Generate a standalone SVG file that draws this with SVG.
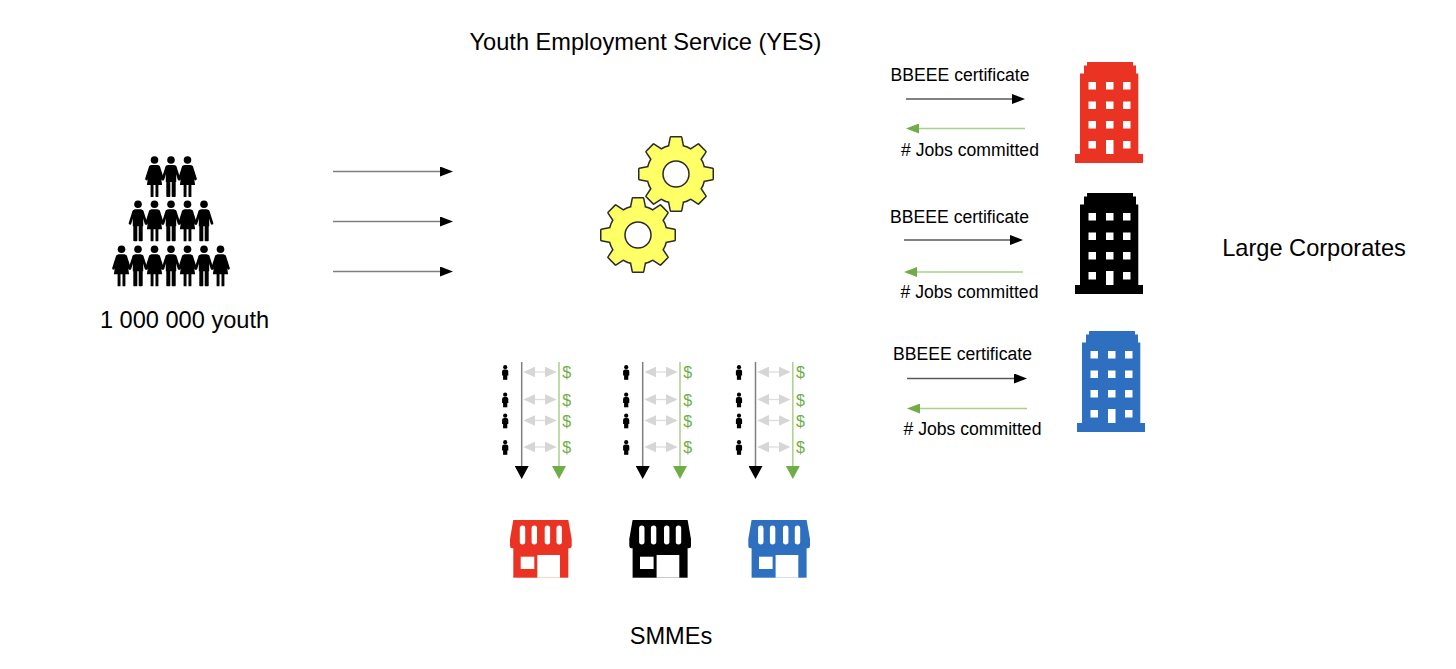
<svg xmlns="http://www.w3.org/2000/svg" xmlns:xlink="http://www.w3.org/1999/xlink" width="1456" height="669" viewBox="0 0 1456 669">
<style>
.t{font-family:"Liberation Sans",Arial,sans-serif;fill:#000}
.big{font-size:23.6px}
.sm{font-size:17.6px}
.dol{font-family:"Liberation Sans",Arial,sans-serif;font-size:16px;fill:#70AD47;text-anchor:middle}
.mid{text-anchor:middle}
.ln{stroke:#7F7F7F;stroke-width:1.5;fill:none}
.lnd{stroke:#595959;stroke-width:1.3;fill:none}
.lng{stroke:#A9D18E;stroke-width:1.5;fill:none}
.lnx{stroke:#DDDDDD;stroke-width:1.3;fill:none}
.win{fill:#fff}
</style>
<defs>
<marker id="ah" viewBox="0 0 13 10" refX="9" refY="5" markerWidth="13" markerHeight="10" markerUnits="userSpaceOnUse" orient="auto"><path d="M0,0 L13,5 L0,10 Z" fill="#000"/></marker>
<marker id="ahg" viewBox="0 0 13 10" refX="9" refY="5" markerWidth="13" markerHeight="10" markerUnits="userSpaceOnUse" orient="auto"><path d="M0,0 L13,5 L0,10 Z" fill="#70AD47"/></marker>
<marker id="av" viewBox="0 0 13 14" refX="9" refY="7" markerWidth="13" markerHeight="14" markerUnits="userSpaceOnUse" orient="auto"><path d="M0,0 L13,7 L0,14 Z" fill="#000"/></marker>
<marker id="avg" viewBox="0 0 13 14" refX="9" refY="7" markerWidth="13" markerHeight="14" markerUnits="userSpaceOnUse" orient="auto"><path d="M0,0 L13,7 L0,14 Z" fill="#70AD47"/></marker>
<marker id="ad" viewBox="0 0 12 11" refX="8" refY="5.5" markerWidth="12" markerHeight="11" markerUnits="userSpaceOnUse" orient="auto-start-reverse"><path d="M0,0 L12,5.5 L0,11 Z" fill="#D6D6D6"/></marker>
<g id="man">
<circle cx="0" cy="0" r="3.8"/>
<path d="M-5.2,8 Q-5.2,5 -2.5,5 H2.5 Q5.2,5 5.2,8 V22 H-5.2 Z"/>
<rect x="-4.7" y="21" width="4" height="16" rx="0.8"/>
<rect x="0.7" y="21" width="4" height="16" rx="0.8"/>
<path d="M-4.2,7 L-8,19 M4.2,7 L8,19" stroke="#000" stroke-width="2.7" stroke-linecap="round" fill="none"/>
</g>
<g id="woman">
<circle cx="0" cy="0" r="3.8"/>
<path d="M-3,5 H3 Q4.5,5 5,7 L7.6,25 H-7.6 L-5,7 Q-4.5,5 -3,5 Z"/>
<rect x="-3.9" y="24" width="2.9" height="13" rx="0.6"/>
<rect x="1" y="24" width="2.9" height="13" rx="0.6"/>
<path d="M-4.2,7 L-8,19 M4.2,7 L8,19" stroke="#000" stroke-width="2.7" stroke-linecap="round" fill="none"/>
</g>
<g id="sp">
<circle cx="0" cy="-4.8" r="2.1"/>
<path d="M-3.1,-0.5 Q-3.1,-2.5 -1,-2.5 H1 Q3.1,-2.5 3.1,-0.5 V3.5 H-3.1 Z"/>
<rect x="-2.1" y="3" width="4.2" height="4.8"/>
</g>
<g id="gearShape">
<circle cx="0" cy="0" r="28.5"/>
<polygon points="-5,-36.5 5,-36.5 6.8,-27.5 -6.8,-27.5"/>
<polygon points="-5,-36.5 5,-36.5 6.8,-27.5 -6.8,-27.5" transform="rotate(45)"/>
<polygon points="-5,-36.5 5,-36.5 6.8,-27.5 -6.8,-27.5" transform="rotate(90)"/>
<polygon points="-5,-36.5 5,-36.5 6.8,-27.5 -6.8,-27.5" transform="rotate(135)"/>
<polygon points="-5,-36.5 5,-36.5 6.8,-27.5 -6.8,-27.5" transform="rotate(180)"/>
<polygon points="-5,-36.5 5,-36.5 6.8,-27.5 -6.8,-27.5" transform="rotate(225)"/>
<polygon points="-5,-36.5 5,-36.5 6.8,-27.5 -6.8,-27.5" transform="rotate(270)"/>
<polygon points="-5,-36.5 5,-36.5 6.8,-27.5 -6.8,-27.5" transform="rotate(315)"/>
</g>
<g id="bldg">
<path d="M12,0 H58 V3.5 H61 V11.5 H63.3 V92 H68 V101 H0 V92 H5 V11.5 H9 V3.5 H12 Z"/>
<rect class="win" x="13.5" y="20" width="7.5" height="7.5"/>
<rect class="win" x="31" y="20" width="7.5" height="7.5"/>
<rect class="win" x="48" y="20" width="7.5" height="7.5"/>
<rect class="win" x="13.5" y="39.5" width="7.5" height="7.5"/>
<rect class="win" x="31" y="39.5" width="7.5" height="7.5"/>
<rect class="win" x="48" y="39.5" width="7.5" height="7.5"/>
<rect class="win" x="13.5" y="59" width="7.5" height="7.5"/>
<rect class="win" x="31" y="59" width="7.5" height="7.5"/>
<rect class="win" x="48" y="59" width="7.5" height="7.5"/>
<rect class="win" x="13.5" y="79" width="7.5" height="7.5"/>
<rect class="win" x="31" y="78" width="7.5" height="14"/>
<rect class="win" x="48" y="79" width="7.5" height="7.5"/>
</g>
<g id="shop">
<path d="M3.3,0 H58.3 L61.7,19 V26 Q61.7,28.3 59.4,28.3 H2.3 Q0,28.3 0,26 V19 Z"/>
<rect x="3.3" y="27.5" width="55" height="30.2"/>
<rect class="win" x="9.8" y="5.5" width="5.4" height="19" rx="2.7"/>
<rect class="win" x="21.6" y="5.5" width="5.4" height="19" rx="2.7"/>
<rect class="win" x="34.7" y="5.5" width="5.4" height="19" rx="2.7"/>
<rect class="win" x="46.5" y="5.5" width="5.4" height="19" rx="2.7"/>
<rect class="win" x="10.7" y="36.7" width="13.6" height="12.3"/>
<rect class="win" x="27.3" y="35" width="22.7" height="22.7"/>
</g>
</defs>

<g id="youth">
<use href="#woman" x="154.5" y="160"/>
<use href="#man" x="171" y="160"/>
<use href="#woman" x="187.5" y="160"/>
<use href="#man" x="138" y="204.3"/>
<use href="#woman" x="154.5" y="204.3"/>
<use href="#man" x="171" y="204.3"/>
<use href="#woman" x="187.5" y="204.3"/>
<use href="#man" x="204" y="204.3"/>
<use href="#woman" x="121.5" y="249.3"/>
<use href="#man" x="138" y="249.3"/>
<use href="#woman" x="154.5" y="249.3"/>
<use href="#man" x="171" y="249.3"/>
<use href="#woman" x="187.5" y="249.3"/>
<use href="#man" x="204" y="249.3"/>
<use href="#woman" x="220.5" y="249.3"/>
<text class="t big mid" x="184.5" y="327.5">1 000 000 youth</text>
</g>

<g id="yes">
<text class="t big mid" x="645.5" y="49.5">Youth Employment Service (YES)</text>
<use href="#gearShape" transform="translate(676,174)" fill="#FFFF66" stroke="#2B2B2B" stroke-width="3" stroke-linejoin="round"/>
<use href="#gearShape" transform="translate(676,174)" fill="#FFFF66" stroke="none"/>
<circle cx="676" cy="174" r="13" fill="#fff" stroke="#2B2B2B" stroke-width="1.5"/>
<use href="#gearShape" transform="translate(638,235)" fill="#FFFF66" stroke="#2B2B2B" stroke-width="3" stroke-linejoin="round"/>
<use href="#gearShape" transform="translate(638,235)" fill="#FFFF66" stroke="none"/>
<circle cx="638" cy="235" r="13" fill="#fff" stroke="#2B2B2B" stroke-width="1.5"/>
</g>

<g id="corporates">
<use href="#bldg" transform="translate(1075,62)" fill="#EB3324"/>
<use href="#bldg" transform="translate(1075,193)" fill="#000"/>
<use href="#bldg" transform="translate(1077,331)" fill="#2E6FBF"/>
<text class="t big mid" x="1314" y="255.5">Large Corporates</text>
</g>

<g id="smmes">
<use href="#shop" transform="translate(510,520)" fill="#EB3324"/>
<use href="#shop" transform="translate(629.3,520)" fill="#000"/>
<use href="#shop" transform="translate(748.3,520)" fill="#2E6FBF"/>
<text class="t big mid" x="671" y="644">SMMEs</text>
</g>

<g id="smme-flows">
<g transform="translate(521.7,0)">
<use href="#sp" x="-16.5" y="372"/><use href="#sp" x="-16.5" y="399.5"/><use href="#sp" x="-16.5" y="420.5"/><use href="#sp" x="-16.5" y="447"/>
<text class="dol" x="45" y="378">$</text><text class="dol" x="45" y="405.5">$</text><text class="dol" x="45" y="426.5">$</text><text class="dol" x="45" y="453">$</text>
</g>
<g transform="translate(642.7,0)">
<use href="#sp" x="-16.5" y="372"/><use href="#sp" x="-16.5" y="399.5"/><use href="#sp" x="-16.5" y="420.5"/><use href="#sp" x="-16.5" y="447"/>
<text class="dol" x="45" y="378">$</text><text class="dol" x="45" y="405.5">$</text><text class="dol" x="45" y="426.5">$</text><text class="dol" x="45" y="453">$</text>
</g>
<g transform="translate(755.5,0)">
<use href="#sp" x="-16.5" y="372"/><use href="#sp" x="-16.5" y="399.5"/><use href="#sp" x="-16.5" y="420.5"/><use href="#sp" x="-16.5" y="447"/>
<text class="dol" x="45" y="378">$</text><text class="dol" x="45" y="405.5">$</text><text class="dol" x="45" y="426.5">$</text><text class="dol" x="45" y="453">$</text>
</g>
</g>

<g id="connectors">
<line class="ln" x1="333" y1="171.5" x2="449" y2="171.5" marker-end="url(#ah)"/>
<line class="ln" x1="333" y1="221.5" x2="449" y2="221.5" marker-end="url(#ah)"/>
<line class="ln" x1="333" y1="271.5" x2="449" y2="271.5" marker-end="url(#ah)"/>

<line class="lnd" x1="906" y1="99" x2="1021" y2="99" marker-end="url(#ah)"/>
<line class="lng" x1="1025" y1="128.5" x2="910" y2="128.5" marker-end="url(#ahg)"/>
<line class="lnd" x1="904" y1="240" x2="1019" y2="240" marker-end="url(#ah)"/>
<line class="lng" x1="1023" y1="272" x2="908" y2="272" marker-end="url(#ahg)"/>
<line class="lnd" x1="907" y1="378.5" x2="1023" y2="378.5" marker-end="url(#ah)"/>
<line class="lng" x1="1027" y1="408.5" x2="911" y2="408.5" marker-end="url(#ahg)"/>

<g transform="translate(521.7,0)">
<line class="ln" x1="0" y1="362" x2="0" y2="475" marker-end="url(#av)"/>
<line class="lng" x1="37.3" y1="362" x2="37.3" y2="475" marker-end="url(#avg)"/>
<line class="lnx" x1="5.7" y1="372" x2="31" y2="372" marker-start="url(#ad)" marker-end="url(#ad)"/>
<line class="lnx" x1="5.7" y1="399.5" x2="31" y2="399.5" marker-start="url(#ad)" marker-end="url(#ad)"/>
<line class="lnx" x1="5.7" y1="420.5" x2="31" y2="420.5" marker-start="url(#ad)" marker-end="url(#ad)"/>
<line class="lnx" x1="5.7" y1="447" x2="31" y2="447" marker-start="url(#ad)" marker-end="url(#ad)"/>
</g>
<g transform="translate(642.7,0)">
<line class="ln" x1="0" y1="362" x2="0" y2="475" marker-end="url(#av)"/>
<line class="lng" x1="37.3" y1="362" x2="37.3" y2="475" marker-end="url(#avg)"/>
<line class="lnx" x1="5.7" y1="372" x2="31" y2="372" marker-start="url(#ad)" marker-end="url(#ad)"/>
<line class="lnx" x1="5.7" y1="399.5" x2="31" y2="399.5" marker-start="url(#ad)" marker-end="url(#ad)"/>
<line class="lnx" x1="5.7" y1="420.5" x2="31" y2="420.5" marker-start="url(#ad)" marker-end="url(#ad)"/>
<line class="lnx" x1="5.7" y1="447" x2="31" y2="447" marker-start="url(#ad)" marker-end="url(#ad)"/>
</g>
<g transform="translate(755.5,0)">
<line class="ln" x1="0" y1="362" x2="0" y2="475" marker-end="url(#av)"/>
<line class="lng" x1="37.3" y1="362" x2="37.3" y2="475" marker-end="url(#avg)"/>
<line class="lnx" x1="5.7" y1="372" x2="31" y2="372" marker-start="url(#ad)" marker-end="url(#ad)"/>
<line class="lnx" x1="5.7" y1="399.5" x2="31" y2="399.5" marker-start="url(#ad)" marker-end="url(#ad)"/>
<line class="lnx" x1="5.7" y1="420.5" x2="31" y2="420.5" marker-start="url(#ad)" marker-end="url(#ad)"/>
<line class="lnx" x1="5.7" y1="447" x2="31" y2="447" marker-start="url(#ad)" marker-end="url(#ad)"/>
</g>
</g>

<g id="connector-labels">
<text class="t sm mid" x="960" y="81">BBEEE certificate</text>
<text class="t sm mid" x="970" y="156">#&#160;Jobs committed</text>
<text class="t sm mid" x="959.5" y="222.5">BBEEE certificate</text>
<text class="t sm mid" x="969.5" y="298">#&#160;Jobs committed</text>
<text class="t sm mid" x="962.5" y="359.5">BBEEE certificate</text>
<text class="t sm mid" x="972.5" y="434.5">#&#160;Jobs committed</text>
</g>
</svg>
